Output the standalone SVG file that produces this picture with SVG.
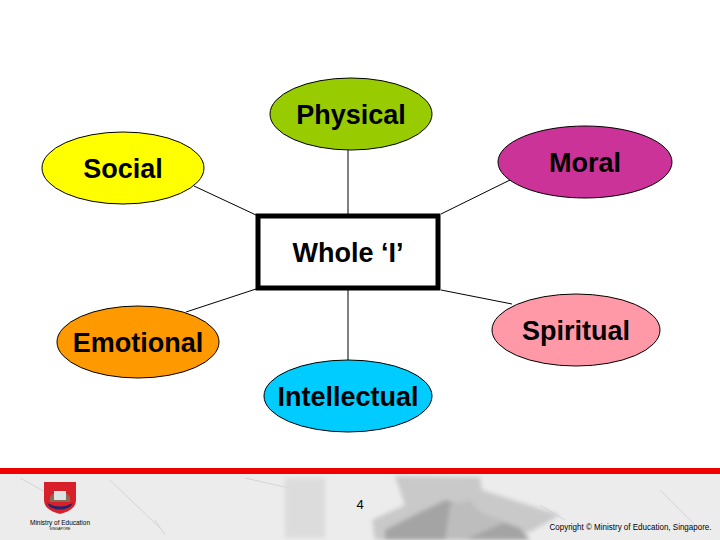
<svg xmlns="http://www.w3.org/2000/svg" width="720" height="540" viewBox="0 0 720 540">
<style>
.n{stroke:#000;stroke-width:1}
.t{font-family:"Liberation Sans",Arial,sans-serif;font-weight:700;font-size:27px;text-anchor:middle;fill:#000}
.c{stroke:#000;stroke-width:1;fill:none}
.f{font-family:"Liberation Sans",Arial,sans-serif;fill:#000}
</style>
<defs>
<filter id="b" x="-10%" y="-20%" width="120%" height="140%"><feGaussianBlur stdDeviation="2"/></filter>
<filter id="s" x="-10%" y="-10%" width="120%" height="120%"><feGaussianBlur stdDeviation="0.5"/></filter>
</defs>
<rect width="720" height="540" fill="#fff"/>
<g id="footer">
<rect x="0" y="474" width="720" height="66" fill="#ececec"/>
<g stroke="#d4d4d4" stroke-width="1" fill="none" filter="url(#s)">
<path d="M110 480L160 528M20 478L60 500M245 478L320 495M155 520L165 535M660 490L700 530M540 505L565 520"/>
</g>
<g filter="url(#b)">
<rect x="285" y="478" width="40" height="60" fill="#dcdcdc"/>
<polygon points="395,476 480,477 482,490 560,515 530,532 495,540 375,540 372,520 405,505" fill="#c9c9c9"/>
<polygon points="420,512 446,500 470,510 520,528 530,540 385,540 385,530" fill="#a4a4a4"/>
<polygon points="450,505 470,500 480,512 505,522 465,540 445,540" fill="#bdbdbd"/>
</g>
<rect x="0" y="468" width="720" height="6" fill="#f00000"/>
</g>
<g id="connectors">
<line class="c" x1="348" y1="150" x2="348" y2="216"/>
<line class="c" x1="194" y1="186" x2="256" y2="215"/>
<line class="c" x1="510" y1="180" x2="441" y2="214"/>
<line class="c" x1="186" y1="312" x2="256" y2="289"/>
<line class="c" x1="512" y1="304" x2="441" y2="290"/>
<line class="c" x1="348" y1="290" x2="348" y2="360"/>
</g>
<g id="physical"><ellipse class="n" cx="351" cy="114" rx="81" ry="36" fill="#99cc00"/><text class="t" x="351" y="124">Physical</text></g>
<g id="social"><ellipse class="n" cx="123" cy="168" rx="81" ry="36" fill="#ffff00"/><text class="t" x="123" y="178">Social</text></g>
<g id="moral"><ellipse class="n" cx="585" cy="162" rx="87" ry="36" fill="#cc3399"/><text class="t" x="585" y="172">Moral</text></g>
<g id="whole"><rect x="258" y="216" width="180" height="72" fill="#fff" stroke="#000" stroke-width="5"/><text class="t" x="348" y="262">Whole ‘I’</text></g>
<g id="emotional"><ellipse class="n" cx="138" cy="342" rx="81" ry="36" fill="#ff9900"/><text class="t" x="138" y="352">Emotional</text></g>
<g id="spiritual"><ellipse class="n" cx="576" cy="330" rx="84" ry="36" fill="#ff99a8"/><text class="t" x="576" y="340">Spiritual</text></g>
<g id="intellectual"><ellipse class="n" cx="348" cy="396" rx="84" ry="36" fill="#00ccff"/><text class="t" x="348" y="406">Intellectual</text></g>
<g id="logo">
<path d="M44 482H76V500Q76 510 60 514Q44 510 44 500Z" fill="#d8202a"/>
<path d="M50 497Q60 485 70 497V502H50Z" fill="#8a6a55"/>
<rect x="54" y="491" width="12" height="9" fill="#dde3e3"/>
<path d="M47 503Q60 510 73 503L70 507Q60 512 50 507Z" fill="#23246e"/>
<text class="f" x="60" y="525" font-size="7.2" text-anchor="middle" textLength="60" lengthAdjust="spacingAndGlyphs">Ministry of Education</text>
<text class="f" x="60" y="530" font-size="3.5" text-anchor="middle" fill="#555">SINGAPORE</text>
</g>
<text class="f" x="360" y="509" font-size="13" text-anchor="middle">4</text>
<text class="f" x="630.5" y="530" font-size="8.3" text-anchor="middle" textLength="162" lengthAdjust="spacingAndGlyphs">Copyright © Ministry of Education, Singapore.</text>
</svg>
